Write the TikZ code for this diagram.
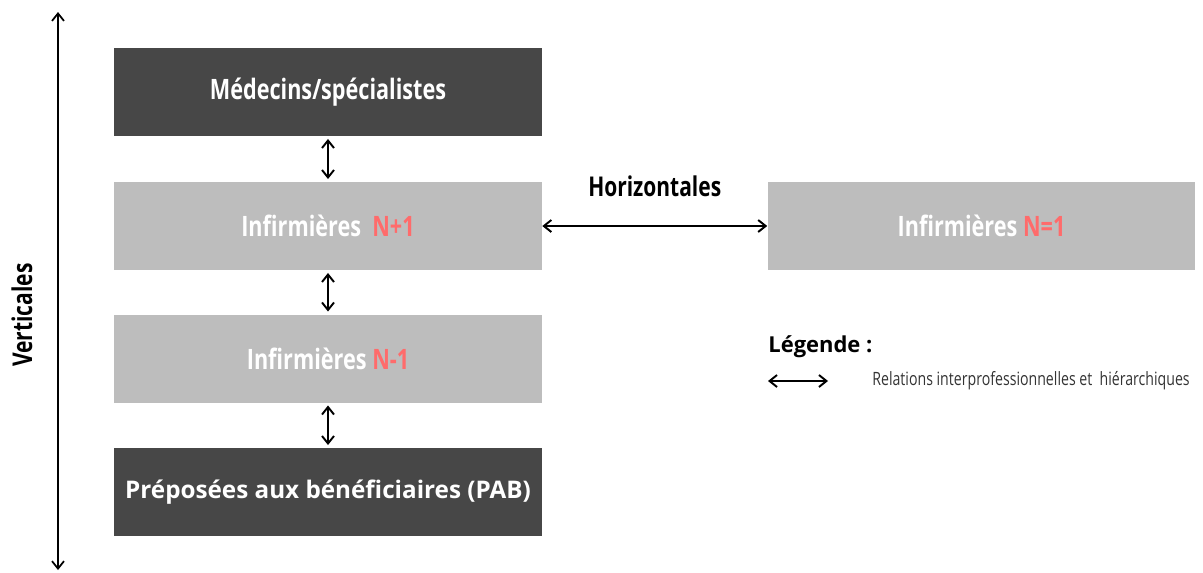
\documentclass[tikz,border=0pt]{standalone}
\usepackage{fontspec}
\setmainfont{Open Sans}
\newfontfamily\condfont[FakeStretch=0.77]{Open Sans}
\usepackage{tikz}
\usetikzlibrary{arrows.meta,positioning}
\definecolor{boxdark}{HTML}{474747}
\definecolor{boxlight}{HTML}{BDBDBD}
\definecolor{levelred}{HTML}{FF6B6B}
\tikzset{
  darkbox/.style={fill=boxdark,text=white,minimum width=8.56cm,minimum height=1.76cm,
    inner sep=0pt,font=\condfont\bfseries\fontsize{16}{18}\selectfont},
  lightbox/.style={darkbox,fill=boxlight},
  relarrow/.style={{Straight Barb[length=1.5mm,width=2.4mm]}-{Straight Barb[length=1.5mm,width=2.4mm]},line width=1.1pt},
  axisarrow/.style={relarrow,line width=1pt},
  axislabel/.style={font=\condfont\bfseries\fontsize{15.5}{18}\selectfont}
}
\begin{document}
\begin{tikzpicture}[x=0.02cm,y=-0.02cm]
  \useasboundingbox (0,0) rectangle (1203,572);
  % niveaux verticaux
  \node[darkbox] (medecins) at (328,92) {Médecins/spécialistes};
  \node[lightbox] (infplus) at (328,226) {Infirmières\ \ \textcolor{levelred}{N+1}};
  \node[lightbox] (infmoins) at (328,358.5) {Infirmières \textcolor{levelred}{N-1}};
  \node[darkbox,font=\bfseries\fontsize{13.8}{17}\selectfont] (pab) at (328,492) {Préposées aux bénéficiaires (PAB)};
  \node[lightbox] (infegal) at (981.5,226) {Infirmières \textcolor{levelred}{N=1}};
  \draw[relarrow,shorten <=1.5pt,shorten >=1.5pt] (medecins) -- (infplus);
  \draw[relarrow,shorten <=1.5pt,shorten >=1.5pt] (infplus) -- (infmoins);
  \draw[relarrow,shorten <=1.5pt,shorten >=1.5pt] (infmoins) -- (pab);
  % relation horizontale
  \draw[relarrow] (infplus) -- node[axislabel,above=0.44cm] (horiz) {Horizontales} (infegal);
  % axe vertical
  \coordinate (vtop) at (58,12);
  \coordinate (vbot) at (58,570);
  \draw[axisarrow] (vtop) -- (vbot);
  \node[axislabel,rotate=90] (vert) at (22,315) {Verticales};
  % legende
  \node[anchor=west,inner sep=0pt,font=\bfseries\fontsize{12.5}{15}\selectfont] (legende) at (768,347) {Légende :};
  \coordinate (lega) at (768,381);
  \coordinate (legb) at (828,381);
  \draw[relarrow] (lega) -- (legb);
  \node[anchor=west,inner sep=0pt,text=black!80,font=\condfont\fontsize{10.45}{13}\selectfont] (legtext) at (872,381) {Relations interprofessionnelles et\ \ hiérarchiques};
\end{tikzpicture}
\end{document}
